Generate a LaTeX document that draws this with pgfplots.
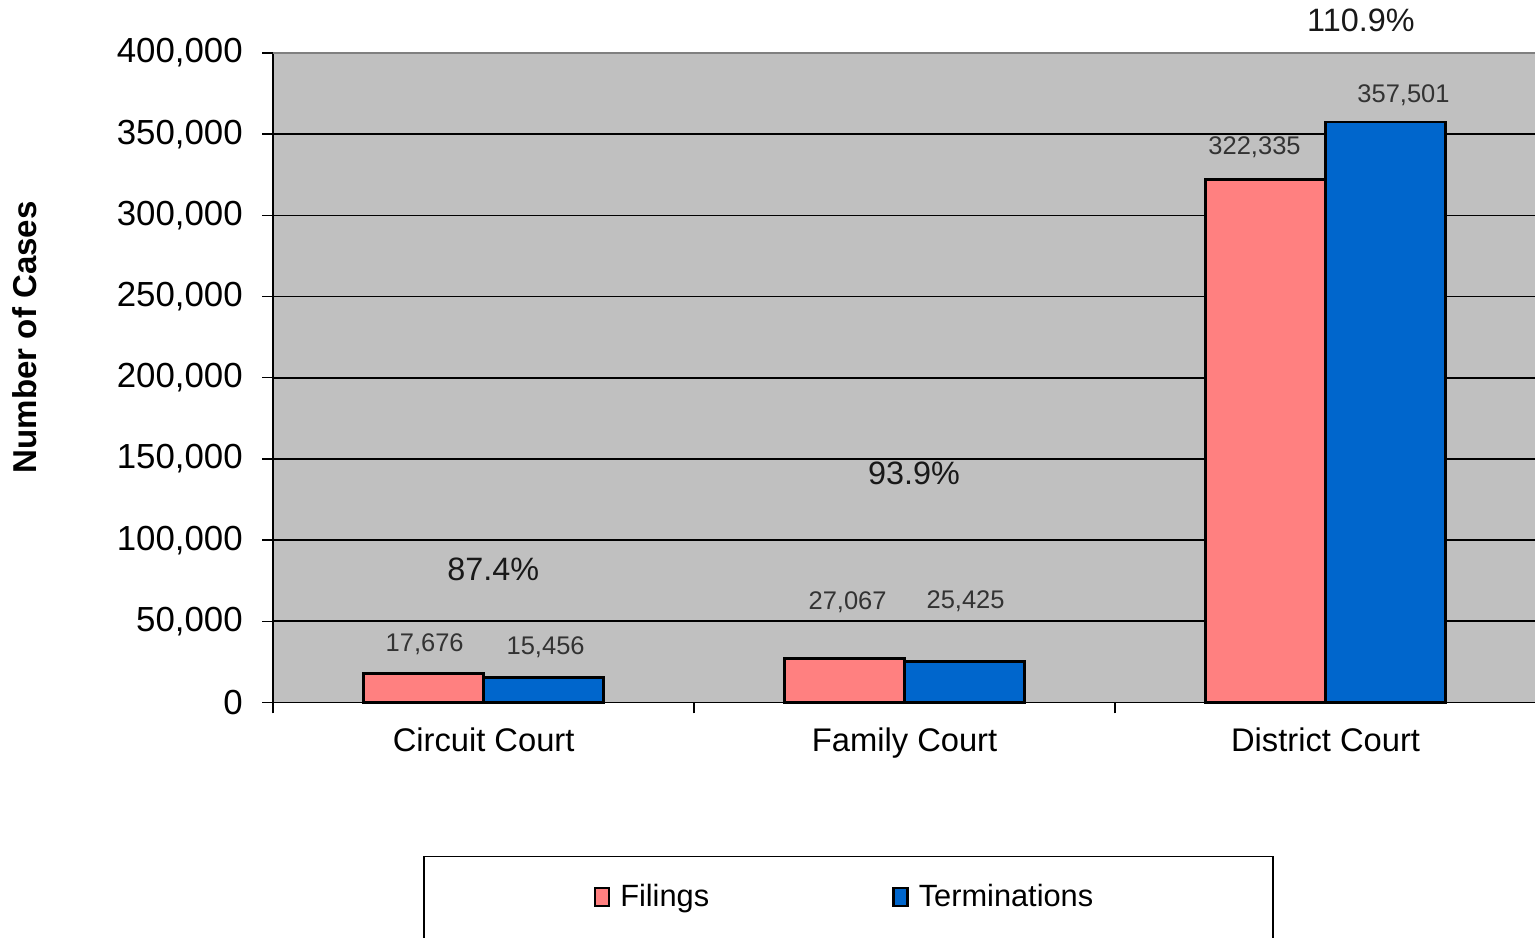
\documentclass[border=0pt]{standalone}
\usepackage{fontspec}
\setmainfont{Liberation Sans}
\usepackage{pgfplots}
\usepackage{pgfplotstable}
\pgfplotsset{compat=1.18}

\definecolor{filings}{HTML}{FF8080}
\definecolor{terms}{HTML}{0066CC}
\definecolor{plotbg}{HTML}{C0C0C0}
\definecolor{frame}{HTML}{808080}

% x = category index, dx/dy = label offset from bar top centre (mm)
\pgfplotstableread{
x y dx dy
0 17676 0.1 2.9
1 27067 0.3 5.6
2 322335 -1.1 3.2
}\filings
\pgfplotstableread{
x y dx dy
0 15456 0.2 3.0
1 25425 0.1 6.0
2 357501 1.8 2.7
}\terminations

\begin{document}
\begin{tikzpicture}
\begin{axis}[
    name=main,
    at={(0,0)}, anchor=south west,
    scale only axis,
    width=12.62cm, height=6.49cm,
    ybar=0pt,
    bar width=0.285,
    clip=false,
    xmin=-0.5, xmax=2.5,
    ymin=0, ymax=400000,
    ytick={0,50000,...,400000},
    xtick={-0.5,0.5,1.5,2.5},
    xticklabels={},
    extra x ticks={0,1,2},
    extra x tick labels={Circuit Court,Family Court,District Court},
    extra x tick style={major tick length=0pt, grid=none},
    major tick length=1.1mm,
    tick align=outside,
    tick style={black, line width=0.4pt},
    axis x line*=bottom,
    axis y line*=left,
    axis line style={black, line width=0.5pt, -},
    ymajorgrids,
    grid style={black, line width=0.45pt},
    axis background/.style={fill=plotbg},
    scaled y ticks=false,
    /pgf/number format/.cd, fixed, 1000 sep={,}, assume math mode=true,
    /pgfplots/.cd,
    yticklabel style={font=\fontsize{9.9}{11}\selectfont, xshift=-0.7mm},
    xticklabel style={font=\fontsize{9.3}{11}\selectfont, yshift=-1.3mm},
    ylabel={\bfseries Number of Cases},
    ylabel style={font=\fontsize{9.4}{11}\selectfont, at={(axis description cs:-0.1965,0.5624)}, anchor=center},
    nodes near coords,
    nodes near coords style={font=\fontsize{7.25}{9}\selectfont, text=black!80, anchor=center},
    visualization depends on={\thisrow{dx} \as \dx},
    visualization depends on={\thisrow{dy} \as \dy},
    every node near coord/.append style={xshift=\dx mm, yshift=\dy mm},
    legend columns=2,
    legend style={
        at={(0.4556,-0.2357)}, anchor=north,
        draw=black, line width=0.5pt,
        font=\fontsize{8.75}{10}\selectfont,
        inner xsep=16.95mm, inner ysep=2.1mm,
        nodes={text depth=4.5mm, inner xsep=1mm},
        /tikz/every even column/.append style={column sep=17.3mm},
    },
    legend image code/.code={\draw[#1, draw=black, line width=0.7pt] (0mm,1.2mm) rectangle (1.4mm,3.0mm);},
]
\addplot[fill=filings, draw=black, line width=0.8pt] table[x=x, y=y] {\filings};
\addlegendentry{Filings}
\addplot[fill=terms, draw=black, line width=0.8pt] table[x=x, y=y] {\terminations};
\addlegendentry{Terminations}

\draw[frame, line width=0.6pt] (rel axis cs:0,1) -- (rel axis cs:1,1);
\node[font=\fontsize{9.2}{11}\selectfont, text=black!90] at (axis cs:0.0226,81972) {87.4\%};
\node[font=\fontsize{9.2}{11}\selectfont, text=black!90] at (axis cs:1.0226,141140) {93.9\%};
\node[font=\fontsize{9.2}{11}\selectfont, text=black!90] at (axis cs:2.084,420339) {110.9\%};
\end{axis}
\pgfresetboundingbox
\path[use as bounding box] ([shift={(-2.73cm,-2.35cm)}]main.south west) rectangle ([shift={(-0.01cm,0.53cm)}]main.north east);
\end{tikzpicture}
\end{document}
